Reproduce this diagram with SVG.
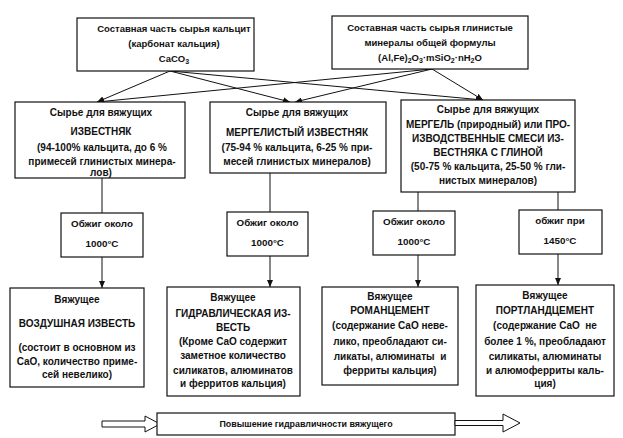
<svg xmlns="http://www.w3.org/2000/svg" width="623" height="438" viewBox="0 0 623 438">
<defs>
<marker id="ah" markerWidth="7" markerHeight="6" refX="7" refY="3" orient="auto" markerUnits="userSpaceOnUse"><path d="M0,0 L7,3 L0,6 z" fill="#111"/></marker>
</defs>
<style>
rect.b{fill:#fff;stroke:#111;stroke-width:1.2}
text{font-family:"Liberation Sans",Arial,sans-serif;font-weight:bold;font-size:10px;fill:#111;text-anchor:middle}
text.t{font-size:9.5px}
text.f{font-size:9.8px}
text.a{font-size:8.9px}
.c line{stroke:#111;stroke-width:1;fill:none}
.sub{font-size:7px}
</style>
<rect width="623" height="438" fill="#fff"/>
<g class="c" id="connectors">
<line x1="170" y1="71" x2="97" y2="102" marker-end="url(#ah)"/>
<line x1="170" y1="71" x2="290" y2="102" marker-end="url(#ah)"/>
<line x1="170" y1="71" x2="483" y2="100" marker-end="url(#ah)"/>
<line x1="432" y1="69" x2="97" y2="102" marker-end="url(#ah)"/>
<line x1="432" y1="69" x2="295" y2="102" marker-end="url(#ah)"/>
<line x1="432" y1="69" x2="483" y2="100" marker-end="url(#ah)"/>
<line x1="102" y1="178" x2="102" y2="213"/>
<line x1="270" y1="173" x2="270" y2="212"/>
<line x1="418" y1="192" x2="418" y2="211"/>
<line x1="558" y1="192" x2="558" y2="210"/>
<line x1="102" y1="257" x2="102" y2="288" marker-end="url(#ah)"/>
<line x1="270" y1="256" x2="270" y2="287" marker-end="url(#ah)"/>
<line x1="418" y1="255" x2="418" y2="287" marker-end="url(#ah)"/>
<line x1="558" y1="254" x2="558" y2="285" marker-end="url(#ah)"/>
</g>
<g id="src-calcite">
<rect class="b" x="77" y="18" width="177" height="53"/>
<text class="t" x="174" y="31.5">Составная часть сырья кальцит</text>
<text class="t" x="174" y="47">(карбонат кальция)</text>
<text class="t" x="174" y="62">CaCO<tspan class="sub" dy="2">3</tspan></text>
</g>
<g id="src-clay">
<rect class="b" x="332" y="16" width="196" height="53"/>
<text class="t" x="430" y="31">Составная часть сырья глинистые</text>
<text class="t" x="430" y="46">минералы общей формулы</text>
<text class="t" x="430" y="61">(Al,Fe)<tspan class="sub" dy="2">2</tspan><tspan dy="-2">O</tspan><tspan class="sub" dy="2">3</tspan><tspan dy="-2">·mSiO</tspan><tspan class="sub" dy="2">2</tspan><tspan dy="-2">·nH</tspan><tspan class="sub" dy="2">2</tspan><tspan dy="-2">O</tspan></text>
</g>
<g id="raw-limestone">
<rect class="b" x="15" y="102" width="170" height="76"/>
<text x="101" y="116">Сырье для вяжущих</text>
<text x="101" y="135">ИЗВЕСТНЯК</text>
<text x="102" y="151">(94-100% кальцита, до 6 %</text>
<text x="102" y="164.5">примесей глинистых минера-</text>
<text x="101" y="176">лов)</text>
</g>
<g id="raw-marly">
<rect class="b" x="210" y="102" width="176" height="71"/>
<text x="297" y="116">Сырье для вяжущих</text>
<text x="297" y="136">МЕРГЕЛИСТЫЙ ИЗВЕСТНЯК</text>
<text x="297" y="151">(75-94 % кальцита, 6-25 % при-</text>
<text x="297" y="165">месей глинистых минералов)</text>
</g>
<g id="raw-marl">
<rect class="b" x="401" y="100" width="174" height="92"/>
<text x="488" y="113">Сырье для вяжущих</text>
<text x="488" y="128">МЕРГЕЛЬ (природный) или ПРО-</text>
<text x="488" y="141.5">ИЗВОДСТВЕННЫЕ СМЕСИ ИЗ-</text>
<text x="488" y="156">ВЕСТНЯКА С ГЛИНОЙ</text>
<text x="488" y="170">(50-75 % кальцита, 25-50 % гли-</text>
<text x="488" y="184">нистых минералов)</text>
</g>
<g id="fire-1">
<rect class="b" x="61" y="213" width="82" height="44"/>
<text class="f" x="102" y="226.5">Обжиг около</text>
<text class="f" x="102" y="246.5">1000°C</text>
</g>
<g id="fire-2">
<rect class="b" x="227" y="212" width="81" height="44"/>
<text class="f" x="267.5" y="225.5">Обжиг около</text>
<text class="f" x="267.5" y="245.5">1000°C</text>
</g>
<g id="fire-3">
<rect class="b" x="373" y="211" width="82" height="44"/>
<text class="f" x="414" y="224.5">Обжиг около</text>
<text class="f" x="414" y="244.5">1000°C</text>
</g>
<g id="fire-4">
<rect class="b" x="519" y="210" width="83" height="44"/>
<text class="f" x="560" y="223.5">обжиг при</text>
<text class="f" x="560" y="243.5">1450°C</text>
</g>
<g id="binder-air-lime">
<rect class="b" x="10" y="288" width="134" height="99"/>
<text x="77" y="302.5">Вяжущее</text>
<text x="77" y="326.5">ВОЗДУШНАЯ ИЗВЕСТЬ</text>
<text x="77" y="350.5">(состоит в основном из</text>
<text x="77" y="364.5">CaO, количество приме-</text>
<text x="77" y="377.5">сей невелико)</text>
</g>
<g id="binder-hydraulic-lime">
<rect class="b" x="167" y="287" width="133" height="109"/>
<text x="233" y="300.5">Вяжущее</text>
<text x="233" y="316.5">ГИДРАВЛИЧЕСКАЯ ИЗ-</text>
<text x="233" y="330.5">ВЕСТЬ</text>
<text x="233" y="344.5">(Кроме CaO содержит</text>
<text x="233" y="358.5">заметное количество</text>
<text x="233" y="373.5">силикатов, алюминатов</text>
<text x="233" y="386.5">и ферритов кальция)</text>
</g>
<g id="binder-roman-cement">
<rect class="b" x="322" y="287" width="136" height="98"/>
<text x="390" y="299.5">Вяжущее</text>
<text x="390" y="313.5">РОМАНЦЕМЕНТ</text>
<text x="390" y="328.5">(содержание CaO неве-</text>
<text x="390" y="344.5">лико, преобладают си-</text>
<text x="390" y="359.5" xml:space="preserve">ликаты, алюминаты  и</text>
<text x="390" y="373.5">ферриты кальция)</text>
</g>
<g id="binder-portland-cement">
<rect class="b" x="476" y="285" width="138" height="111"/>
<text x="545" y="298.5">Вяжущее</text>
<text x="545" y="313.5">ПОРТЛАНДЦЕМЕНТ</text>
<text x="545" y="328.5" xml:space="preserve">(содержание CaO  не</text>
<text x="545" y="344.5">более 1 %, преобладают</text>
<text x="545" y="359.5">силикаты, алюминаты</text>
<text x="545" y="373.5">и алюмоферриты каль-</text>
<text x="545" y="386.5">ция)</text>
</g>
<g id="hydraulicity-arrow">
<polygon points="102,421 145,421 145,416 160,424 145,432 145,427 102,427" fill="#fff" stroke="#111" stroke-width="1"/>
<rect class="b" x="157" y="413" width="298" height="22"/>
<polygon points="455,420.5 503,420.5 503,414 520,423 503,432 503,425.5 455,425.5" fill="#fff" stroke="#111" stroke-width="1"/>
<text class="a" x="306" y="427">Повышение гидравличности вяжущего</text>
</g>
</svg>
